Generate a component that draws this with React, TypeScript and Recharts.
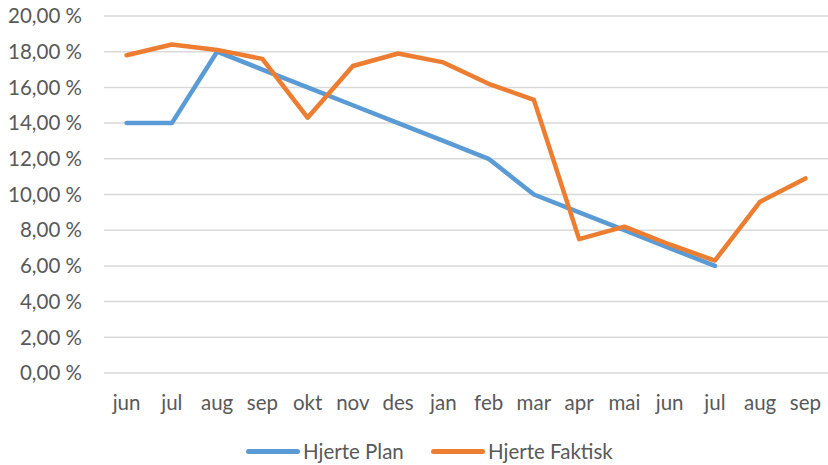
import React from 'react';
import { LineChart, Line, XAxis, YAxis, CartesianGrid, Legend } from 'recharts';

const months = ['jun', 'jul', 'aug', 'sep', 'okt', 'nov', 'des', 'jan', 'feb', 'mar', 'apr', 'mai', 'jun', 'jul', 'aug', 'sep'];
const plan = [14, 14, 18, 17, 16, 15, 14, 13, 12, 10, 9, 8, 7, 6, null, null];
const faktisk = [17.8, 18.4, 18.1, 17.6, 14.3, 17.2, 17.9, 17.4, 16.2, 15.3, 7.5, 8.2, 7.2, 6.3, 9.6, 10.9];
const yTicks = [0, 2, 4, 6, 8, 10, 12, 14, 16, 18, 20];

const data = months.map((m, i) => ({ month: m, plan: plan[i], faktisk: faktisk[i] }));

const font = 'Lato, "Open Sans", sans-serif';
const textColor = '#595959';
const fontSize = 20.5;

const fmt = (v: number) => v.toFixed(2).replace('.', ',') + ' %';

const LegendContent = () => {
  const items = [
    { name: 'Hjerte Plan', color: '#5b9bd5', width: 185 },
    { name: 'Hjerte Faktisk', color: '#ed7d31', width: 200 },
  ];
  return (
    <div style={{ display: 'flex', height: 28, alignItems: 'center', paddingLeft: 246, fontFamily: font, fontSize, color: textColor }}>
      {items.map((it) => (
        <div key={it.name} style={{ display: 'flex', alignItems: 'center', width: it.width }}>
          <div style={{ width: 54, height: 5, borderRadius: 3, background: it.color, marginRight: 3 }} />
          <span>{it.name}</span>
        </div>
      ))}
    </div>
  );
};

export default function App() {
  return (
    <div style={{ position: 'absolute', left: 0, top: 0, background: '#fff' }}>
      <LineChart width={828} height={465} data={data} margin={{ top: 16, right: 0, left: 0, bottom: 0 }}>
        <CartesianGrid vertical={false} stroke="#d9d9d9" strokeWidth={1.5} />
        <XAxis
          dataKey="month"
          axisLine={false}
          tickLine={false}
          height={64}
          tickMargin={16}
          interval={0}
          padding={{ left: 22.6, right: 22.6 }}
          tick={{ fill: textColor, fontSize, fontFamily: font }}
        />
        <YAxis
          domain={[0, 20]}
          ticks={yTicks}
          width={104}
          axisLine={false}
          tickLine={false}
          tickMargin={16}
          tickFormatter={fmt}
          tick={{ fill: textColor, fontSize, fontFamily: font }}
        />
        <Legend verticalAlign="bottom" content={<LegendContent />} />
        <Line
          dataKey="plan"
          name="Hjerte Plan"
          stroke="#5b9bd5"
          strokeWidth={4.5}
          dot={false}
          strokeLinejoin="round"
          strokeLinecap="round"
          isAnimationActive={false}
        />
        <Line
          dataKey="faktisk"
          name="Hjerte Faktisk"
          stroke="#ed7d31"
          strokeWidth={4.5}
          dot={false}
          strokeLinejoin="round"
          strokeLinecap="round"
          isAnimationActive={false}
        />
      </LineChart>
    </div>
  );
}
